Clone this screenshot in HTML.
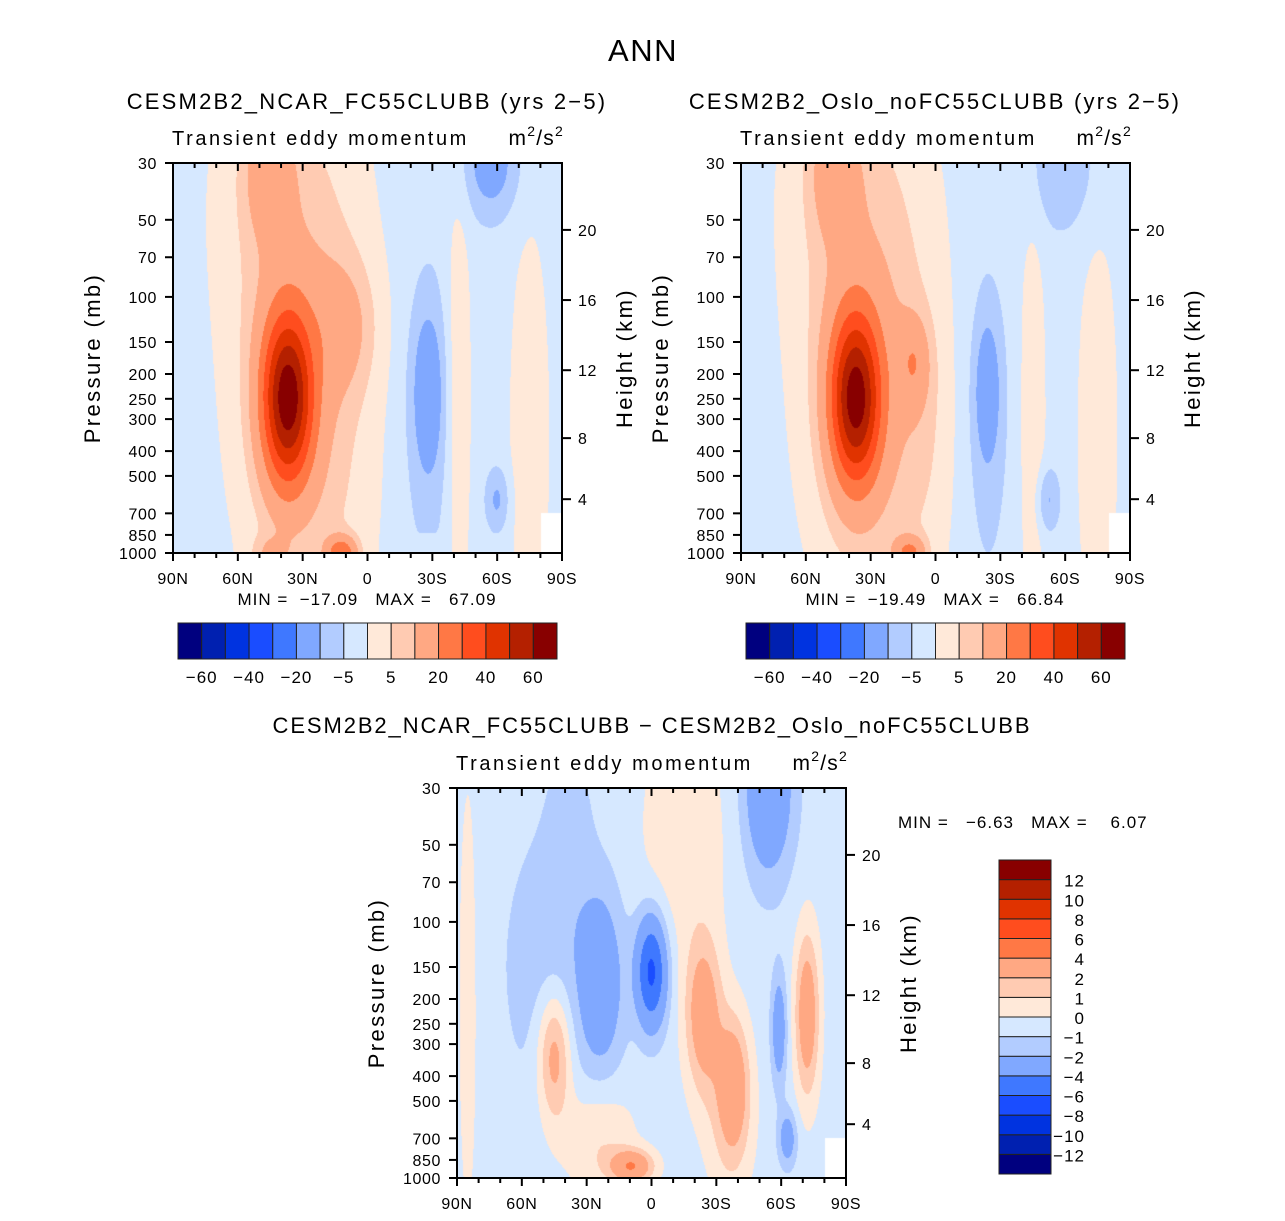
<!DOCTYPE html>
<html><head><meta charset="utf-8"><style>
html,body{margin:0;padding:0;background:#fff;}
body{width:1285px;height:1216px;position:relative;overflow:hidden;font-family:"Liberation Sans",sans-serif;color:#000;}
svg text{font-family:"Liberation Sans",sans-serif;white-space:pre;}
</style></head><body>
<svg id="root" width="1285" height="1216" xmlns="http://www.w3.org/2000/svg"></svg>
<script>
// ---------- data ----------
const topLevels = [-60,-50,-40,-30,-20,-10,-5,0,5,10,20,30,40,50,60];
const topLevelLabels = ["−60","−40","−20","−5","5","20","40","60"];
const topLabelIdx = [0,2,4,6,8,10,12,14];
const diffLevels = [-12,-10,-8,-6,-4,-2,-1,0,1,2,4,6,8,10,12];
const diffLevelLabels = ["−12","−10","−8","−6","−4","−2","−1","0","1","2","4","6","8","10","12"];
const colors = ["#00007f","#0020b0","#0033e0","#1a4dff","#3f78ff","#80a8ff","#b2ccff","#d6e8ff","#ffe9d9","#ffcbb2","#ffa883","#ff7845","#ff4d1e","#e03300","#b42000","#880000"];
const pressureTicks = [30,50,70,100,150,200,250,300,400,500,700,850,1000];
const heightTicks = [4,8,12,16,20];
const latTicks = [90,60,30,0,-30,-60,-90];
const latTickLabels = ["90N","60N","30N","0","30S","60S","90S"];

// Field blobs: lat (N+), pressure (mb), amplitude, lat width (deg), log-p width (axis fraction)
const aBase = -2;
const aLat  = [37, 38, 46, 40, 10, 15, -28, -28, -57, -60, -42, -75, 12, 45, -28];
const aP    = [250,250,32, 40, 130,300,230, 300, 30,  620, 250, 350, 1000,1000,1000];
const aAmp  = [56, 11, 12, 6,  9,  6,  -9,  -6,  -12, -9,  6.5, 6.5, 25, 8, 4];
const aSLat = [8,  16, 8,  22, 10, 15, 5,   8,   9,   4,   4,   6,   5,  6, 3];
const aSY   = [0.15,0.33,0.12,0.3,0.12,0.45,0.14,0.3,0.1,0.06,0.4,0.35,0.03,0.03,0.03];

const bBase = -2;
const bLat  = [37, 38, 47, 40, 10, 15, -24, -24, -58, -52, -45, -75, 12, 5];
const bP    = [250,250,32, 40, 180,300,230, 300, 32,  620, 300, 350, 1000,300];
const bAmp  = [55, 11, 12, 6,  12, 6,  -9,  -6,  -7,  -9,  6,   6.5, 20, 3];
const bSLat = [8,  16, 8,  22, 5,  15, 4,   7,   12,  4,   4,   6,   5, 8];
const bSY   = [0.15,0.33,0.12,0.3,0.08,0.45,0.12,0.3,0.12,0.06,0.4,0.35,0.03,0.2];

const dBase = -0.5;
const dLat  = [45, 23, 0,  -54, -59, -63, 45, -24, -38, -72, 9,   -15, 25, 85, -36, 38];
const dP    = [150,173,156,30,  263, 700, 330, 230, 420, 230, 900, 45, 700,200, 600, 40];
const dAmp  = [-1.3,-2.6,-6,-3.5,-2.8,-2.5,3.6,3.6,3, 3.8, 4.2, 1.3,1.6,1.2,1.5, -0.8];
const dSLat = [16, 7,  5,  8,   2.5, 3,   5.5,6,   5,   4,   7,   14, 12, 3,  8, 7];
const dSY   = [0.25,0.16,0.1,0.16,0.1,0.05,0.12,0.14,0.12,0.15,0.03,0.22,0.1,0.4,0.15,0.15];

// ---------- helpers ----------
const NS="http://www.w3.org/2000/svg";
const root=document.getElementById('root');
function mk(tag,attrs,parent){const e=document.createElementNS(NS,tag);for(const k in attrs)e.setAttribute(k,attrs[k]);(parent||root).appendChild(e);return e;}
function txt(x,y,s,size,anchor,parent,rot,ls){const t=mk('text',{x:x,y:y,'font-size':size,'text-anchor':anchor||'middle'},parent);if(ls)t.setAttribute('letter-spacing',ls);if(rot)t.setAttribute('transform','rotate(-90 '+x+' '+y+')');t.textContent=s;return t;}
const LOGR=Math.log(1000/30);
function fyOfP(p){return Math.log(p/30)/LOGR;}
function pOfZ(zkm){const z=zkm*1000;if(z<=11000)return 1013.25*Math.pow(1-2.2558e-5*z,5.2559);return 226.32*Math.exp(-(z-11000)/6341.6);}
function levelIndex(v,levels){let i=0;while(i<levels.length&&v>=levels[i])i++;return i;}

function drawPlot(px,py,base,lats,ps,amps,sl,sy,levels,name){
  const W=389,H=390;
  const xOf=lat=>px+(90-lat)/180*W;
  const yOf=p=>py+fyOfP(p)*H;
  const g=mk('g',{},root);
  
  
  const fo=mk('foreignObject',{x:px,y:py,width:W,height:H},g);
  const cv=document.createElement('canvas');cv.width=W;cv.height=H;
  
  
  fo.appendChild(cv);
  const ctx=cv.getContext('2d');
  const fy0=lats.map((l,i)=>fyOfP(ps[i]));
  for(let j=0;j<H;j++){
    const fy=(j+0.5)/H;
    for(let i=0;i<W;i++){
      const fx=(i+0.5)/W;
      const lat=90-180*fx;
      if(fx>0.945&&fy>0.898){continue;}
      let v=base;
      for(let k=0;k<lats.length;k++){
        const dx=(lat-lats[k])/sl[k], dy=(fy-fy0[k])/sy[k];
        v+=amps[k]*Math.exp(-0.5*(dx*dx+dy*dy));
      }
      ctx.fillStyle=colors[levelIndex(v,levels)];
      ctx.fillRect(i,j,1,1);
    }
  }
  mk('rect',{x:px,y:py,width:W,height:H,fill:'none',stroke:'#000','stroke-width':2},g);
  pressureTicks.forEach(p=>{const y=yOf(p);
    mk('line',{x1:px-8,x2:px,y1:y,y2:y,stroke:'#000','stroke-width':2},g);
    txt(px-16,y+6,String(p),16,'end',g,false,0.6);});
  heightTicks.forEach(z=>{const y=yOf(pOfZ(z));
    mk('line',{x1:px+W,x2:px+W+9,y1:y,y2:y,stroke:'#000','stroke-width':2},g);
    txt(px+W+16,y+6,String(z),16,'start',g,false,0.6);});
  for(let lat=90;lat>=-90;lat-=10){const x=xOf(lat);const major=lat%30===0;
    mk('line',{x1:x,x2:x,y1:py+H,y2:py+H+(major?8:5),stroke:'#000','stroke-width':2},g);
    mk('line',{x1:x,x2:x,y1:py,y2:py+(major?8:5),stroke:'#000','stroke-width':2},g);}
  latTicks.forEach((lat,i)=>txt(xOf(lat),py+H+31,latTickLabels[i],16,'middle',g,false,0.6));
  txt(px-73,py+H/2,"Pressure (mb)",22,'middle',g,true,2.4);
  txt(px+W+70,py+H/2,"Height (km)",22,'middle',g,true,2.4);
  txt(px-1,py-18,"Transient eddy momentum",20,'start',g,false,2.6);
  const s2=txt(px+W+2,py-18,"",21,'end',g,false,1.2);
  const parts=[['m',0,21],['2',-9,14],['/s',9,21],['2',-9,14]];
  parts.forEach(pp=>{const t=document.createElementNS(NS,'tspan');t.setAttribute('dy',pp[1]);t.setAttribute('font-size',pp[2]);t.textContent=pp[0];s2.appendChild(t);});
  return g;
}

function hColorbar(x0,y0,w,h,name){
  const g=mk('g',{},root);
  
  
  const bw=w/colors.length;
  colors.forEach((c,i)=>{mk('rect',{x:x0+i*bw,y:y0,width:bw,height:h,fill:c,stroke:'#222','stroke-width':1},g);});
  topLabelIdx.forEach((li,k)=>txt(x0+(li+1)*bw,y0+h+24,topLevelLabels[k],17,'middle',g,false,1));
}
function vColorbar(x0,y0,w,h,name){
  const g=mk('g',{},root);
  
  
  const bh=h/colors.length;
  colors.forEach((c,i)=>{mk('rect',{x:x0,y:y0+h-(i+1)*bh,width:w,height:bh,fill:c,stroke:'#222','stroke-width':1},g);});
  diffLevelLabels.forEach((s,i)=>{const y=y0+h-(i+1)*bh;txt(x0+w+34,y+7,s,17,'end',g,false,1);});
}

// ---------- figure ----------
txt(643,61,"ANN",31,'middle',root,false,1.5);
const t1=txt(367,109,"CESM2B2_NCAR_FC55CLUBB (yrs 2−5)",22,'middle',root,false,2.2);

const t2=txt(935,109,"CESM2B2_Oslo_noFC55CLUBB (yrs 2−5)",22,'middle',root,false,2.2);

drawPlot(173,163,aBase,aLat,aP,aAmp,aSLat,aSY,topLevels,'ncar-panel');
drawPlot(741,163,bBase,bLat,bP,bAmp,bSLat,bSY,topLevels,'oslo-panel');
txt(367,605,"MIN =  −17.09   MAX =   67.09",17,'middle',root,false,1);
txt(935,605,"MIN =  −19.49   MAX =   66.84",17,'middle',root,false,1);
hColorbar(178,623,379,36,'ncar-colorbar');
hColorbar(746,623,379,36,'oslo-colorbar');
const t3=txt(652,733,"CESM2B2_NCAR_FC55CLUBB − CESM2B2_Oslo_noFC55CLUBB",22,'middle',root,false,1.9);

drawPlot(457,788,dBase,dLat,dP,dAmp,dSLat,dSY,diffLevels,'difference-panel');
const mm=txt(898,828,"MIN =   −6.63   MAX =    6.07",17,'start',root,false,1);

vColorbar(999,860,52,314,'difference-colorbar');
</script>
</body></html>
